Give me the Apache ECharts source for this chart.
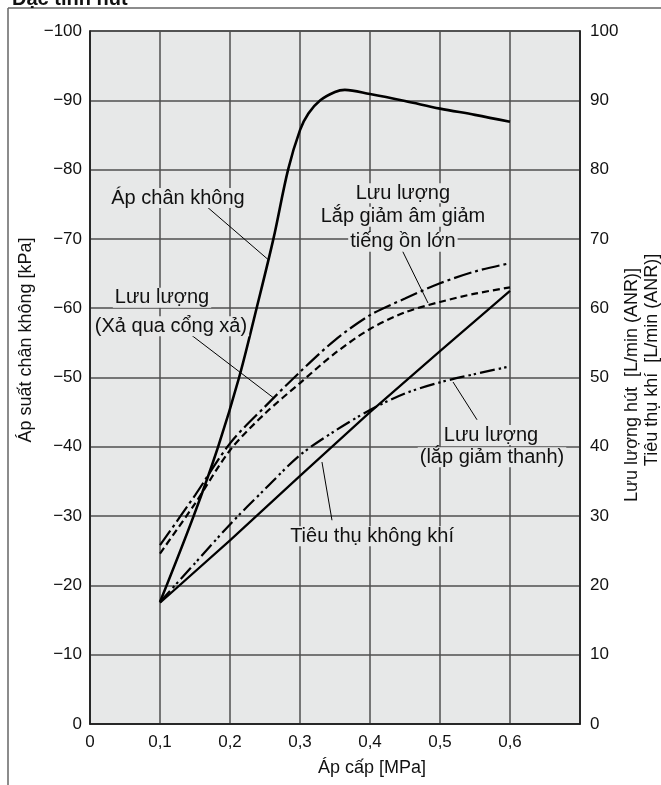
<!DOCTYPE html>
<html>
<head>
<meta charset="utf-8">
<script src="https://cdn.jsdelivr.net/npm/echarts@6/dist/echarts.min.js"></script>
<style>
html,body{margin:0;padding:0;background:#fff;}
#chart{width:661px;height:785px;}
</style>
</head>
<body>
<div id="chart"></div>
<script>
// ---- data ----
const xTickLabels = ['0', '0,1', '0,2', '0,3', '0,4', '0,5', '0,6', ''];
const vacuumX = [0.1, 0.148, 0.183, 0.213, 0.238, 0.262, 0.283, 0.3, 0.312, 0.329, 0.35, 0.364, 0.4, 0.45, 0.5, 0.55, 0.6];
const vacuumKPa = [-17.6, -30, -40, -50, -60, -70, -80, -85.7, -88.1, -90, -91.2, -91.5, -90.9, -89.9, -88.8, -87.9, -86.9];
const supplyX = [0.1, 0.15, 0.2, 0.25, 0.3, 0.35, 0.4, 0.45, 0.5, 0.55, 0.6];
const flowExhaustPort = [24.6, 31.8, 39.5, 44.8, 49.2, 53.5, 57.0, 59.4, 60.9, 62.1, 63.0];
const flowLargeSilencer = [25.8, 33.0, 40.5, 45.8, 50.8, 55.4, 59.0, 61.4, 63.6, 65.3, 66.5];
const flowSilencer = [17.6, 23.2, 28.8, 33.9, 38.8, 42.3, 45.3, 47.7, 49.3, 50.5, 51.6];
const airX = [0.1, 0.2, 0.3, 0.4, 0.5, 0.6];
const airConsumption = [17.5, 26.5, 35.8, 45.0, 53.8, 62.5];

const FONT = "'Liberation Sans', Arial, Helvetica, sans-serif";
const pair = (xs, ys) => xs.map((x, i) => [x, ys[i]]);

const chart = echarts.init(document.getElementById('chart'), null, {renderer: 'canvas'});

const gridLine = {show: true, lineStyle: {color: '#4f4f4f', width: 1.5}};
const axisLine = {show: true, lineStyle: {color: '#1a1a1a', width: 1.5}};

chart.setOption({
  animation: false,
  backgroundColor: '#ffffff',
  grid: {left: 90, right: 81, top: 31, bottom: 61, show: true, backgroundColor: '#e7e8e8', borderColor: '#333', borderWidth: 1.5},
  xAxis: {
    type: 'value', min: 0, max: 0.7, interval: 0.1,
    axisLine: axisLine, axisTick: {show: false},
    splitLine: gridLine,
    axisLabel: {
      color: '#111', fontFamily: FONT, fontSize: 17, margin: 10,
      formatter: v => xTickLabels[Math.round(v * 10)]
    }
  },
  yAxis: [
    {
      type: 'value', min: -100, max: 0, interval: 10, inverse: true, position: 'left',
      axisLine: axisLine, axisTick: {show: false},
      splitLine: gridLine,
      axisLabel: {
        color: '#111', fontFamily: FONT, fontSize: 17, margin: 8,
        formatter: v => v === 0 ? '0' : '\u2212' + Math.abs(v)
      }
    },
    {
      type: 'value', min: 0, max: 100, interval: 10, position: 'right',
      axisLine: axisLine, axisTick: {show: false},
      splitLine: {show: false},
      axisLabel: {color: '#111', fontFamily: FONT, fontSize: 17, margin: 10}
    }
  ],
  series: [
    {
      name: 'Áp chân không', type: 'line', yAxisIndex: 0, showSymbol: false, smooth: 0.35,
      data: pair(vacuumX, vacuumKPa),
      lineStyle: {color: '#000', width: 2.6}, z: 5
    },
    {
      name: 'Lưu lượng (Xả qua cổng xả)', type: 'line', yAxisIndex: 1, showSymbol: false, smooth: 0.3,
      data: pair(supplyX, flowExhaustPort),
      lineStyle: {color: '#000', width: 2.2, type: [7, 4]}, z: 4
    },
    {
      name: 'Lưu lượng Lắp giảm âm giảm tiếng ồn lớn', type: 'line', yAxisIndex: 1, showSymbol: false, smooth: 0.3,
      data: pair(supplyX, flowLargeSilencer),
      lineStyle: {color: '#000', width: 2.2, type: [18, 4, 3, 4]}, z: 4
    },
    {
      name: 'Lưu lượng (lắp giảm thanh)', type: 'line', yAxisIndex: 1, showSymbol: false, smooth: 0.3,
      data: pair(supplyX, flowSilencer),
      lineStyle: {color: '#000', width: 2.2, type: [15, 4, 2.5, 3, 2.5, 4]}, z: 4
    },
    {
      name: 'Tiêu thụ không khí', type: 'line', yAxisIndex: 1, showSymbol: false, smooth: false,
      data: pair(airX, airConsumption),
      lineStyle: {color: '#000', width: 2.2}, z: 4
    }
  ]
});

// ---- annotations (positioned in data units: x = MPa, y = right-axis units) ----
const notes = [
  {texts: [['Áp chân không', 0.1257, 75.9]], leader: [[0.1686, 74.5], [0.2547, 67.0]]},
  {texts: [['Lưu lượng', 0.1029, 61.5], ['(Xả qua cổng xả)', 0.1157, 57.4]], leader: [[0.1386, 56.6], [0.2630, 47.0]]},
  {texts: [['Lưu lượng', 0.447, 76.6], ['Lắp giảm âm giảm', 0.447, 73.2], ['tiếng ồn lớn', 0.447, 69.6]], leader: [[0.4457, 68.4], [0.4829, 60.75]]},
  {texts: [['Lưu lượng', 0.5729, 41.7], ['(lắp giảm thanh)', 0.5743, 38.5]], leader: [[0.5529, 43.9], [0.5186, 49.35]]},
  {texts: [['Tiêu thụ không khí', 0.4029, 27.1]], leader: [[0.3457, 29.4], [0.3314, 37.8]]}
];
const toPx = (x, y) => [chart.convertToPixel({xAxisIndex: 0}, x), chart.convertToPixel({yAxisIndex: 1}, y)];

const graphics = [];
notes.forEach(n => {
  const a = toPx(n.leader[0][0], n.leader[0][1]);
  const b = toPx(n.leader[1][0], n.leader[1][1]);
  graphics.push({type: 'line', z: 50, shape: {x1: a[0], y1: a[1], x2: b[0], y2: b[1]}, style: {stroke: '#000', lineWidth: 1}});
  n.texts.forEach(t => {
    const p = toPx(t[1], t[2]);
    graphics.push({
      type: 'text', z: 60, x: p[0], y: p[1],
      style: {text: t[0], fill: '#111', font: '20px ' + FONT, align: 'center', verticalAlign: 'middle',
              backgroundColor: '#e7e8e8', padding: [0, 2]}
    });
  });
});

// frame lines and title
graphics.push({type: 'line', z: 10, shape: {x1: 8, y1: 8, x2: 661, y2: 8}, style: {stroke: '#666', lineWidth: 1.5}});
graphics.push({type: 'line', z: 10, shape: {x1: 8, y1: 8, x2: 8, y2: 785}, style: {stroke: '#666', lineWidth: 1.5}});
graphics.push({type: 'text', z: 10, x: 12, y: 9, style: {text: 'Đặc tính hút', fill: '#111', font: 'bold 20px ' + FONT, align: 'left', verticalAlign: 'bottom'}});

// axis names
graphics.push({type: 'text', z: 10, x: 372, y: 768, style: {text: 'Áp cấp [MPa]', fill: '#111', font: '18px ' + FONT, align: 'center', verticalAlign: 'middle'}});
graphics.push({type: 'text', z: 10, x: 26, y: 340, rotation: Math.PI / 2, style: {text: 'Áp suất chân không [kPa]', fill: '#111', font: '18px ' + FONT, align: 'center', verticalAlign: 'middle'}});
graphics.push({type: 'text', z: 10, x: 632, y: 385, rotation: Math.PI / 2, style: {text: 'Lưu lượng hút  [L/min (ANR)]', fill: '#111', font: '18px ' + FONT, align: 'center', verticalAlign: 'middle'}});
graphics.push({type: 'text', z: 10, x: 652, y: 360, rotation: Math.PI / 2, style: {text: 'Tiêu thụ khí  [L/min (ANR)]', fill: '#111', font: '18px ' + FONT, align: 'center', verticalAlign: 'middle'}});

chart.setOption({graphic: graphics});
</script>
</body>
</html>
